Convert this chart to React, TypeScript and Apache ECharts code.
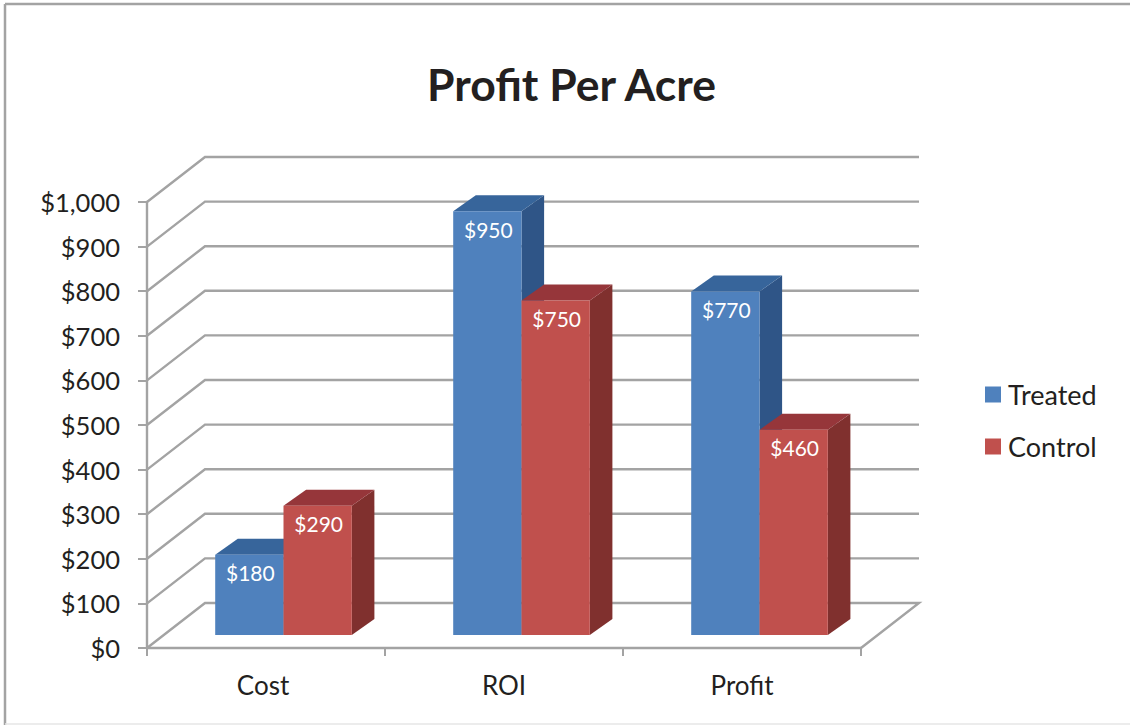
import React, { useEffect, useRef } from "react";
import * as echarts from "echarts";

const categories = ["Cost", "ROI", "Profit"];
const treated = [180, 950, 770];
const control = [290, 750, 460];
const yTicks = [0, 100, 200, 300, 400, 500, 600, 700, 800, 900, 1000];

const FONT = "Lato, 'Open Sans', sans-serif";
const GRAY = "#A3A3A3";
const TEXT = "#231F20";

const WALL_DX = 58;
const WALL_DY = 45;
const BAR_W = 68.3;
const BAR_SHIFT_X = 17.5;
const BAR_SHIFT_Y = 13;
const DEPTH_X = 22.6;
const DEPTH_Y = 16;

function wallRender(params: any, api: any) {
  const v = api.value(1);
  const [x, y] = api.coord([0, v]);
  const cs = params.coordSys;
  const left = cs.x;
  const right = cs.x + cs.width;
  const pts: number[][] = [
    [left, y],
    [left + WALL_DX, y - WALL_DY],
    [right + WALL_DX, y - WALL_DY],
  ];
  if (v === 0) pts.push([right, y]);
  return {
    type: "polyline",
    silent: true,
    shape: { points: pts },
    style: { stroke: GRAY, lineWidth: 2.4, fill: "none" },
  };
}

function barRender(sign: number, front: string, top: string, side: string) {
  return (_params: any, api: any) => {
    const cat = api.value(0);
    const val = api.value(1);
    const base = api.coord([cat, 0]);
    const head = api.coord([cat, val]);
    const xL = base[0] + BAR_SHIFT_X + (sign < 0 ? -BAR_W : 0);
    const xR = xL + BAR_W;
    const yB = base[1] - BAR_SHIFT_Y;
    const yT = head[1] - BAR_SHIFT_Y;
    return {
      type: "group",
      silent: true,
      children: [
        {
          type: "polygon",
          shape: { points: [[xR, yT], [xR + DEPTH_X, yT - DEPTH_Y], [xR + DEPTH_X, yB - DEPTH_Y], [xR, yB]] },
          style: { fill: side },
        },
        {
          type: "polygon",
          shape: { points: [[xL, yT], [xL + DEPTH_X, yT - DEPTH_Y], [xR + DEPTH_X, yT - DEPTH_Y], [xR, yT]] },
          style: { fill: top },
        },
        {
          type: "rect",
          shape: { x: xL, y: yT, width: BAR_W, height: yB - yT },
          style: { fill: front },
        },
        {
          type: "text",
          style: {
            x: xL + BAR_W / 2 + 1,
            y: yT + 18,
            text: "$" + val,
            fill: "#FFFFFF",
            font: `21px ${FONT}`,
            align: "center",
            verticalAlign: "middle",
          },
        },
      ],
    };
  };
}

export default function App() {
  const ref = useRef<HTMLDivElement>(null);
  useEffect(() => {
    document.body.style.margin = "0";
    document.body.style.background = "#FFFFFF";
    const chart = echarts.init(ref.current!, undefined, { renderer: "svg" });
    chart.setOption({
      animation: false,
      backgroundColor: "#FFFFFF",
      title: {
        text: "Profit Per Acre",
        left: 422,
        top: 56,
        textStyle: { fontFamily: FONT, fontWeight: "bold", fontSize: 44.5, color: TEXT },
      },
      legend: {
        data: ["Treated", "Control"],
        orient: "vertical",
        left: 980,
        top: 376,
        itemWidth: 16,
        itemHeight: 16,
        itemGap: 25,
        icon: "rect",
        textStyle: { fontFamily: FONT, fontSize: 27, color: TEXT, padding: [0, 0, 0, 2] },
      },
      grid: { left: 147, top: 202, width: 714, height: 446 },
      xAxis: {
        type: "category",
        data: categories,
        boundaryGap: true,
        axisLine: { show: true, lineStyle: { color: GRAY, width: 2.4 } },
        axisTick: { show: true, length: 8, lineStyle: { color: GRAY, width: 2 } },
        axisLabel: {
          color: TEXT,
          fontFamily: FONT,
          fontSize: 26,
          margin: 24,
          formatter: (v: string) => (v === "Cost" ? `{shift|${v}}` : v),
          rich: { shift: { fontFamily: FONT, fontSize: 26, color: TEXT, padding: [0, 6, 0, 0] } },
        },
      },
      yAxis: {
        type: "value",
        min: 0,
        max: 1000,
        interval: 100,
        splitLine: { show: false },
        axisLine: { show: true, lineStyle: { color: GRAY, width: 2.4 } },
        axisTick: { show: true, length: 9, lineStyle: { color: GRAY, width: 2 } },
        axisLabel: {
          color: TEXT,
          fontFamily: FONT,
          fontSize: 25.5,
          margin: 27,
          formatter: (v: number) => "$" + v.toLocaleString("en-US"),
        },
      },
      series: [
        {
          type: "custom",
          name: "wall",
          coordinateSystem: "cartesian2d",
          clip: false,
          silent: true,
          encode: { x: 0, y: 1 },
          data: yTicks.map((v) => [0, v]),
          renderItem: wallRender,
        },
        {
          type: "custom",
          name: "Treated",
          coordinateSystem: "cartesian2d",
          clip: false,
          itemStyle: { color: "#4F81BD" },
          encode: { x: 0, y: 1 },
          data: treated.map((v, i) => [i, v]),
          renderItem: barRender(-1, "#4F81BD", "#37659B", "#2F5587"),
        },
        {
          type: "custom",
          name: "Control",
          coordinateSystem: "cartesian2d",
          clip: false,
          itemStyle: { color: "#C0504D" },
          encode: { x: 0, y: 1 },
          data: control.map((v, i) => [i, v]),
          renderItem: barRender(1, "#C0504D", "#96363A", "#80302E"),
        },
      ],
      graphic: [
        { type: "line", silent: true, shape: { x1: 5, y1: 4, x2: 1130, y2: 4 }, style: { stroke: GRAY, lineWidth: 2.5 } },
        { type: "line", silent: true, shape: { x1: 5, y1: 4, x2: 5, y2: 725 }, style: { stroke: GRAY, lineWidth: 2.5 } },
        { type: "line", silent: true, shape: { x1: 5, y1: 724, x2: 1130, y2: 724 }, style: { stroke: "#E6E6E6", lineWidth: 1.5 } },
      ],
    });
    return () => chart.dispose();
  }, []);
  return <div ref={ref} style={{ position: "fixed", left: 0, top: 0, width: 1130, height: 725 }} />;
}
